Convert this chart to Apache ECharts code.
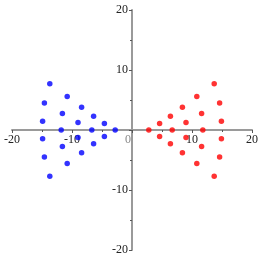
<!DOCTYPE html>
<html>
<head>
<meta charset="utf-8">
<script src="https://cdn.jsdelivr.net/npm/echarts@6/dist/echarts.min.js"></script>
<style>html,body{margin:0;padding:0;background:#fff;}#c{width:262px;height:262px;}</style>
</head>
<body>
<div id="c"></div>
<script>
var blueX = [-13.7, -10.8, -14.6, -8.4, -11.6, -6.4, -14.9, -9.0, -4.6, -11.8, -6.7, -2.8, -14.9, -9.0, -4.6, -11.6, -6.4, -14.6, -8.4, -10.8, -13.7];
var blueY = [7.7, 5.6, 4.5, 3.8, 2.75, 2.3, 1.45, 1.25, 1.1, 0, 0, 0, -1.45, -1.25, -1.1, -2.75, -2.3, -4.5, -3.8, -5.6, -7.7];
var redX = [13.7, 10.8, 14.6, 8.4, 11.6, 6.4, 14.9, 9.0, 4.6, 11.8, 6.7, 2.8, 14.9, 9.0, 4.6, 11.6, 6.4, 14.6, 8.4, 10.8, 13.7];
var redY = [7.7, 5.6, 4.5, 3.8, 2.75, 2.3, 1.45, 1.25, 1.1, 0, 0, 0, -1.45, -1.25, -1.1, -2.75, -2.3, -4.5, -3.8, -5.6, -7.7];
var xTicks = [-20, -10, 0, 10, 20];
var yTicks = [-20, -10, 10, 20];

function pairs(xs, ys) { return xs.map(function (x, i) { return [x, ys[i]]; }); }

var chart = echarts.init(document.getElementById('c'));
var font = "'Liberation Serif', 'DejaVu Serif', serif";
chart.setOption({
  animation: false,
  grid: { left: 12, right: 10, top: 10, bottom: 12, containLabel: false },
  xAxis: {
    type: 'value', min: -20, max: 20, interval: 10, position: 'bottom', offset: -120,
    axisLine: { onZero: false, lineStyle: { color: '#9a9a9a', width: 2 } },
    axisTick: { show: true, length: 3, lineStyle: { color: '#555', width: 1 } },
    minorTick: { show: true, splitNumber: 2, length: 2, lineStyle: { color: '#555' } },
    splitLine: { show: false },
    axisLabel: {
      fontFamily: font, fontSize: 12, color: '#222', margin: 4,
      formatter: function (v) {
        if (xTicks.indexOf(v) < 0) return '';
        return v === 0 ? '{z|0}' : String(v);
      },
      rich: { z: { color: '#888', fontFamily: font, fontSize: 12, padding: [0, 8, 0, 0] } }
    }
  },
  yAxis: {
    type: 'value', min: -20, max: 20, interval: 10, position: 'left', offset: -120,
    axisLine: { onZero: false, lineStyle: { color: '#9a9a9a', width: 2 } },
    axisTick: { show: true, length: 3, lineStyle: { color: '#555', width: 1 } },
    minorTick: { show: true, splitNumber: 2, length: 2, lineStyle: { color: '#555' } },
    splitLine: { show: false },
    axisLabel: {
      fontFamily: font, fontSize: 12, color: '#222', margin: 4,
      formatter: function (v) { return yTicks.indexOf(v) < 0 ? '' : String(v); }
    }
  },
  series: [
    { type: 'scatter', data: pairs(blueX, blueY), symbolSize: 5.5, itemStyle: { color: '#0000ff' } },
    { type: 'scatter', data: pairs(redX, redY), symbolSize: 5.5, itemStyle: { color: '#ff0000' } }
  ]
});
</script>
</body>
</html>
